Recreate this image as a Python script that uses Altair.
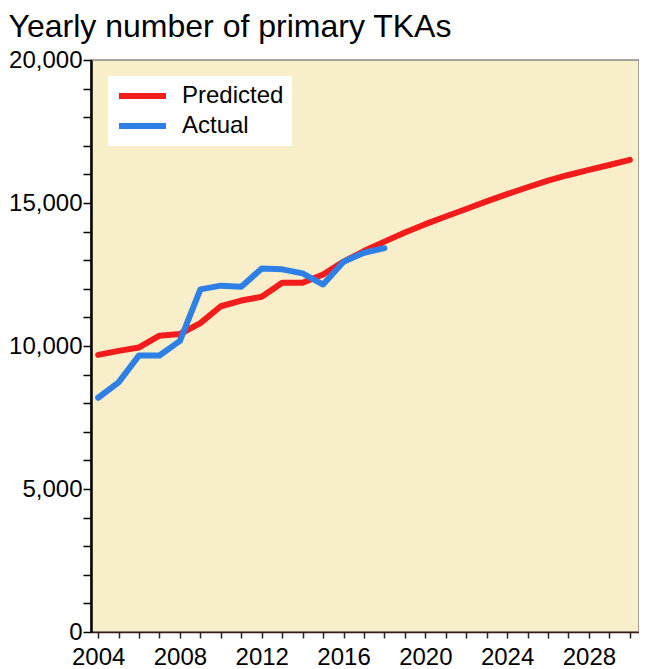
import altair as alt
import pandas as pd

# ---- data ----
pred_years = list(range(2004, 2031))
pred_values = [9690, 9830, 9950, 10360, 10420, 10800, 11390, 11590, 11720, 12210,
               12210, 12500, 12950, 13320, 13650, 13970, 14260, 14530, 14790, 15055,
               15310, 15550, 15780, 15980, 16160, 16330, 16510]
act_years = list(range(2004, 2019))
act_values = [8190, 8730, 9670, 9670, 10180, 11980, 12110, 12070, 12710, 12680,
              12540, 12150, 12950, 13260, 13420]

series_names = ["Predicted", "Actual"]
series_colors = ["#F21C1C", "#2F80E6"]
title_text = "Yearly number of primary TKAs"

df = pd.concat([
    pd.DataFrame({"year": pred_years, "value": pred_values, "series": "Predicted"}),
    pd.DataFrame({"year": act_years, "value": act_values, "series": "Actual"}),
])

FONT = "Liberation Sans"

chart = alt.Chart(df).mark_line(strokeWidth=6, strokeCap="round", strokeJoin="round").encode(
    x=alt.X("year:Q",
            scale=alt.Scale(domain=[2003.65, 2030.45], nice=False, zero=False),
            axis=alt.Axis(title=None, values=list(range(2004, 2031)),
                          labelExpr="datum.value % 4 == 0 ? format(datum.value, 'd') : ''",
                          grid=False, tickSize=6, tickColor="#222", tickWidth=1.5,
                          domainColor="#3a1a10", domainWidth=1.5,
                          labelFontSize=24, labelFont=FONT, labelColor="black",
                          labelPadding=7, labelOverlap=False, labelFlush=False)),
    y=alt.Y("value:Q",
            scale=alt.Scale(domain=[0, 20000], nice=False),
            axis=alt.Axis(title=None, values=list(range(0, 20001, 1000)),
                          labelExpr="datum.value % 5000 == 0 ? format(datum.value, ',') : ''",
                          grid=False, tickSize=8, tickColor="black", tickWidth=1.5,
                          domainColor="black", domainWidth=2.5,
                          labelFontSize=24, labelFont=FONT, labelColor="black",
                          labelPadding=1, labelOverlap=False)),
    color=alt.Color("series:N",
                    scale=alt.Scale(domain=series_names, range=series_colors),
                    legend=alt.Legend(orient="none", legendX=17, legendY=16, title=None,
                                      fillColor="white", padding=8,
                                      symbolType="stroke", symbolSize=2209,
                                      symbolStrokeWidth=6, labelFontSize=24,
                                      labelFont=FONT, labelColor="black",
                                      clipHeight=24, rowPadding=6, labelOffset=13)),
    order=alt.Order("year:Q"),
).properties(
    width=548,
    height=572,
    padding={"left": 0, "top": 3, "right": 0, "bottom": 0},
    background="white",
    title=alt.TitleParams(title_text, anchor="start", frame="bounds", fontSize=32,
                          font=FONT, fontWeight="normal", color="black", offset=4),
).configure_view(
    fill="#F8EFCA", stroke="#888888", strokeWidth=1.5
)

chart.save("out.html", embed_options={"renderer": "svg", "actions": False})
